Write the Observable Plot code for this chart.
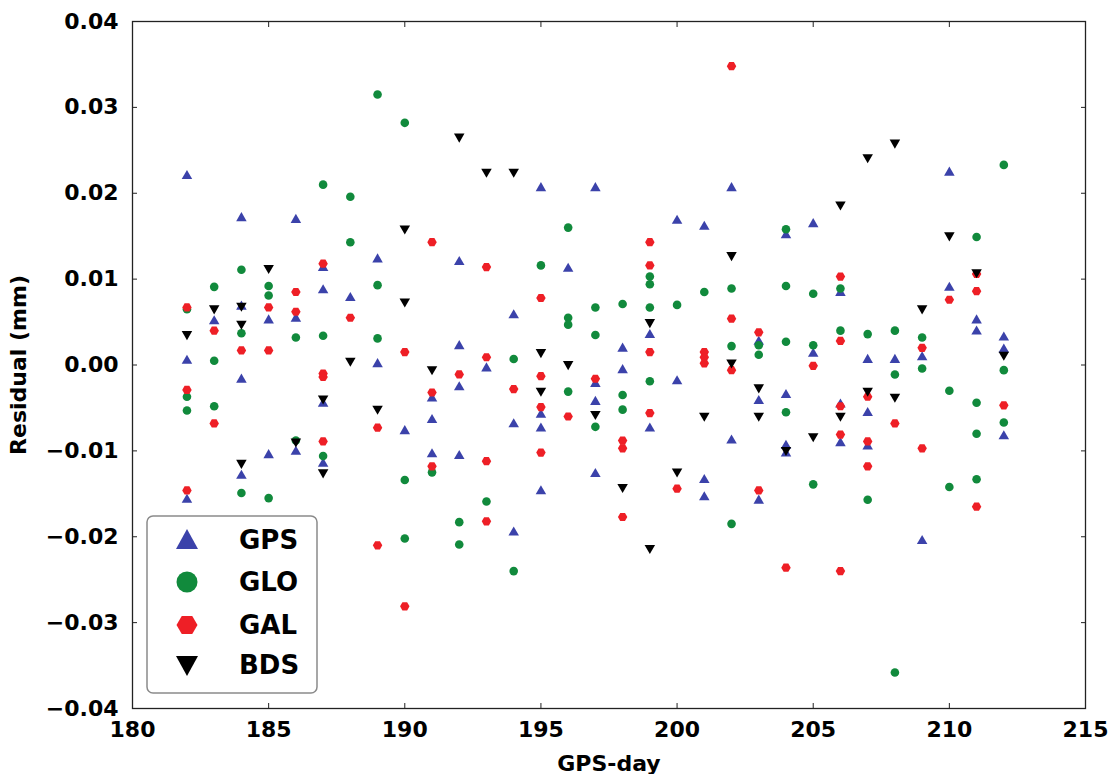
<!DOCTYPE html>
<html>
<head>
<meta charset="utf-8">
<script src="https://cdn.jsdelivr.net/npm/d3@7"></script>
<script src="https://cdn.jsdelivr.net/npm/@observablehq/plot@0.6"></script>
<style>
  body { margin: 0; background: white; }
  #wrap { position: relative; width: 1113px; height: 774px; }
  #legend { position: absolute; left: 146px; top: 515px; }
  svg { font-family: "DejaVu Sans", sans-serif; }
</style>
</head>
<body>
<div id="wrap"></div>
<script>
// ---- data: [GPS-day, residual (mm)] ----
const gps = [
  [182, 0.0220], [182, 0.0005], [182, -0.0157],
  [183, 0.0051],
  [184, 0.0171], [184, 0.0068], [184, -0.0017], [184, -0.0129],
  [185, 0.0052], [185, -0.0105],
  [186, 0.0169], [186, 0.0054], [186, -0.0101],
  [187, 0.0113], [187, 0.0087], [187, -0.0045], [187, -0.0115],
  [188, 0.0078],
  [189, 0.0123], [189, 0.0001],
  [190, -0.0077],
  [191, -0.0039], [191, -0.0064], [191, -0.0104],
  [192, 0.0120], [192, 0.0022], [192, -0.0026], [192, -0.0106],
  [193, -0.0004],
  [194, 0.0058], [194, -0.0069], [194, -0.0195],
  [195, 0.0206], [195, -0.0058], [195, -0.0074], [195, -0.0147],
  [196, 0.0112],
  [197, 0.0206], [197, -0.0022], [197, -0.0043], [197, -0.0127],
  [198, 0.0019], [198, -0.0006],
  [199, 0.0035], [199, -0.0074],
  [200, 0.0168], [200, -0.0019],
  [201, 0.0161], [201, -0.0134], [201, -0.0154],
  [202, 0.0206], [202, -0.0088],
  [203, 0.0027], [203, -0.0042], [203, -0.0158],
  [204, 0.0151], [204, -0.0035], [204, -0.0094], [204, -0.0103],
  [205, 0.0164], [205, 0.0013],
  [206, 0.0084], [206, -0.0046], [206, -0.0091],
  [207, 0.0006], [207, -0.0056], [207, -0.0095],
  [208, 0.0006],
  [209, 0.0009], [209, -0.0205],
  [210, 0.0224], [210, 0.0090],
  [211, 0.0052], [211, 0.0039],
  [212, 0.0032], [212, 0.0018], [212, -0.0083]
];
const glo = [
  [182, 0.0065], [182, -0.0037], [182, -0.0053],
  [183, 0.0091], [183, 0.0005], [183, -0.0048],
  [184, 0.0111], [184, 0.0037], [184, -0.0149],
  [185, 0.0092], [185, 0.0081], [185, -0.0155],
  [186, 0.0032], [186, -0.0088],
  [187, 0.0210], [187, 0.0034], [187, -0.0106],
  [188, 0.0196], [188, 0.0143],
  [189, 0.0315], [189, 0.0093], [189, 0.0031],
  [190, 0.0282], [190, -0.0134], [190, -0.0202],
  [191, -0.0125],
  [192, -0.0183], [192, -0.0209],
  [193, -0.0159],
  [194, 0.0007], [194, -0.0240],
  [195, 0.0116],
  [196, 0.0160], [196, 0.0055], [196, 0.0047], [196, -0.0031],
  [197, 0.0067], [197, 0.0035], [197, -0.0072],
  [198, 0.0071], [198, -0.0035], [198, -0.0052],
  [199, 0.0103], [199, 0.0094], [199, 0.0067], [199, -0.0019],
  [200, 0.0070],
  [201, 0.0085],
  [202, 0.0089], [202, 0.0022], [202, -0.0185],
  [203, 0.0023], [203, 0.0012],
  [204, 0.0158], [204, 0.0092], [204, 0.0027], [204, -0.0055],
  [205, 0.0083], [205, 0.0023], [205, -0.0139],
  [206, 0.0089], [206, 0.0040],
  [207, 0.0036], [207, -0.0157],
  [208, 0.0040], [208, -0.0011], [208, -0.0358],
  [209, 0.0032], [209, -0.0004],
  [210, -0.0030], [210, -0.0142],
  [211, 0.0149], [211, -0.0044], [211, -0.0080], [211, -0.0133],
  [212, 0.0233], [212, -0.0006], [212, -0.0067]
];
const gal = [
  [182, 0.0067], [182, -0.0029], [182, -0.0146],
  [183, 0.0040], [183, -0.0068],
  [184, 0.0017],
  [185, 0.0067], [185, 0.0017],
  [186, 0.0085], [186, 0.0062],
  [187, 0.0118], [187, -0.0010], [187, -0.0014], [187, -0.0089],
  [188, 0.0055],
  [189, -0.0073], [189, -0.0210],
  [190, 0.0015], [190, -0.0281],
  [191, 0.0143], [191, -0.0032], [191, -0.0118],
  [192, -0.0011],
  [193, 0.0114], [193, 0.0009], [193, -0.0112], [193, -0.0182],
  [194, -0.0028],
  [195, 0.0078], [195, -0.0013], [195, -0.0049], [195, -0.0102],
  [196, -0.0060],
  [197, -0.0016],
  [198, -0.0088], [198, -0.0097], [198, -0.0177],
  [199, 0.0143], [199, 0.0116], [199, 0.0015], [199, -0.0056],
  [200, -0.0144],
  [201, 0.0015], [201, 0.0009], [201, 0.0002],
  [202, 0.0348], [202, 0.0054], [202, -0.0006],
  [203, 0.0038], [203, -0.0146],
  [204, -0.0236],
  [205, -0.0001],
  [206, 0.0103], [206, 0.0028], [206, -0.0048], [206, -0.0081], [206, -0.0240],
  [207, -0.0037], [207, -0.0089], [207, -0.0118],
  [208, -0.0068],
  [209, 0.0020], [209, -0.0097],
  [210, 0.0076],
  [211, 0.0106], [211, 0.0086], [211, -0.0165],
  [212, -0.0047]
];
const bds = [
  [182, 0.0036],
  [183, 0.0066],
  [184, 0.0069], [184, 0.0048], [184, -0.0114],
  [185, 0.0113],
  [186, -0.0089],
  [187, -0.0039], [187, -0.0125],
  [188, 0.0005],
  [189, -0.0051],
  [190, 0.0159], [190, 0.0074],
  [191, -0.0005],
  [192, 0.0266],
  [193, 0.0225],
  [194, 0.0225],
  [195, 0.0015], [195, -0.0030],
  [196, 0.0001],
  [197, -0.0057],
  [198, -0.0142],
  [199, 0.0050], [199, -0.0213],
  [200, -0.0124],
  [201, -0.0059],
  [202, 0.0128], [202, 0.0003],
  [203, -0.0026], [203, -0.0059],
  [204, -0.0099],
  [205, -0.0083],
  [206, 0.0187], [206, -0.0059],
  [207, 0.0242], [207, -0.0030],
  [208, 0.0259], [208, -0.0037],
  [209, 0.0066],
  [210, 0.0151],
  [211, 0.0108],
  [212, 0.0012]
];
const seriesNames = ["GPS", "GLO", "GAL", "BDS"];
const xTicks = [180, 185, 190, 195, 200, 205, 210, 215];
const yTicks = [-0.04, -0.03, -0.02, -0.01, 0.00, 0.01, 0.02, 0.03, 0.04];

const colors = { GPS: "#3b42aa", GLO: "#118a3c", GAL: "#ee1f26", BDS: "#000000" };

const sqrt3 = Math.sqrt(3);
const downTriangle = {
  draw(context, size) {
    const y = Math.sqrt(size / (sqrt3 * 3));
    context.moveTo(0, y * 2);
    context.lineTo(-sqrt3 * y, -y);
    context.lineTo(sqrt3 * y, -y);
    context.closePath();
  }
};
const flatHexagon = {
  draw(context, size) {
    const R = Math.sqrt(size / (1.5 * sqrt3));
    const h = R * sqrt3 / 2;
    context.moveTo(R, 0);
    context.lineTo(R / 2, h);
    context.lineTo(-R / 2, h);
    context.lineTo(-R, 0);
    context.lineTo(-R / 2, -h);
    context.lineTo(R / 2, -h);
    context.closePath();
  }
};

const fx = d => d[0], fy = d => d[1];

const chart = Plot.plot({
  width: 1113,
  height: 774,
  marginLeft: 132,
  marginRight: 28,
  marginTop: 21,
  marginBottom: 66,
  style: { fontFamily: "DejaVu Sans, sans-serif", fontSize: "22px", fontWeight: "bold", background: "white", color: "black" },
  x: { domain: [180, 215] },
  y: { domain: [-0.04, 0.04] },
  marks: [
    Plot.dot(gps, { x: fx, y: fy, symbol: "triangle", r: 3.9, fill: colors.GPS, stroke: "none" }),
    Plot.dot(glo, { x: fx, y: fy, symbol: "circle", r: 4.3, fill: colors.GLO, stroke: "none" }),
    Plot.dot(gal, { x: fx, y: fy, symbol: flatHexagon, r: 4.3, fill: colors.GAL, stroke: "none" }),
    Plot.dot(bds, { x: fx, y: fy, symbol: downTriangle, r: 3.9, fill: colors.BDS, stroke: "none" }),
    Plot.frame({ stroke: "#222", strokeWidth: 1.3 }),
    // inward ticks on all four sides
    Plot.axisX(xTicks, { anchor: "bottom", tickSize: -5, fill: "none", tickFormat: () => "", label: null, stroke: "#222" }),
    Plot.axisX(xTicks, { anchor: "top", tickSize: -5, fill: "none", tickFormat: () => "", label: null, stroke: "#222" }),
    Plot.axisY(yTicks, { anchor: "left", tickSize: -5, fill: "none", tickFormat: () => "", label: null, stroke: "#222" }),
    Plot.axisY(yTicks, { anchor: "right", tickSize: -5, fill: "none", tickFormat: () => "", label: null, stroke: "#222" }),
    // tick labels and axis titles
    Plot.axisX(xTicks, { anchor: "bottom", tickSize: 0, tickPadding: 13, fill: "black",
      label: "GPS-day", labelAnchor: "center", labelOffset: 62, labelArrow: "none" }),
    Plot.axisY(yTicks, { anchor: "left", tickSize: 0, tickPadding: 14, fill: "black", tickFormat: d3.format(".2f"),
      label: "Residual (mm)", labelAnchor: "center", labelOffset: 122, labelArrow: "none" })
  ]
});

const wrap = document.getElementById("wrap");
wrap.appendChild(chart);

// legend box
const ns = "http://www.w3.org/2000/svg";
const leg = document.createElementNS(ns, "svg");
leg.setAttribute("id", "legend");
leg.setAttribute("width", 173);
leg.setAttribute("height", 180);
const rowY = [25, 67, 110, 150];
let inner = `<rect x="1" y="1" width="170" height="177" rx="6" ry="6" fill="white" stroke="#8a8a8a" stroke-width="1.5"/>`;
const mx = 41;
seriesNames.forEach((name, i) => {
  const cy = rowY[i];
  const c = colors[name];
  if (name === "GPS") inner += `<polygon points="${mx},${cy - 11} ${mx - 11},${cy + 9} ${mx + 11},${cy + 9}" fill="${c}"/>`;
  if (name === "GLO") inner += `<circle cx="${mx}" cy="${cy}" r="10.5" fill="${c}"/>`;
  if (name === "GAL") {
    const R = 10.5, h = R * sqrt3 / 2;
    inner += `<polygon points="${mx + R},${cy} ${mx + R / 2},${cy + h} ${mx - R / 2},${cy + h} ${mx - R},${cy} ${mx - R / 2},${cy - h} ${mx + R / 2},${cy - h}" fill="${c}"/>`;
  }
  if (name === "BDS") inner += `<polygon points="${mx - 11},${cy - 9} ${mx + 11},${cy - 9} ${mx},${cy + 11}" fill="${c}"/>`;
  inner += `<text x="93" y="${cy}" dy="0.36em" font-family="DejaVu Sans, sans-serif" font-weight="bold" font-size="26px" fill="black">${name}</text>`;
});
leg.innerHTML = inner;
wrap.appendChild(leg);
</script>
</body>
</html>
